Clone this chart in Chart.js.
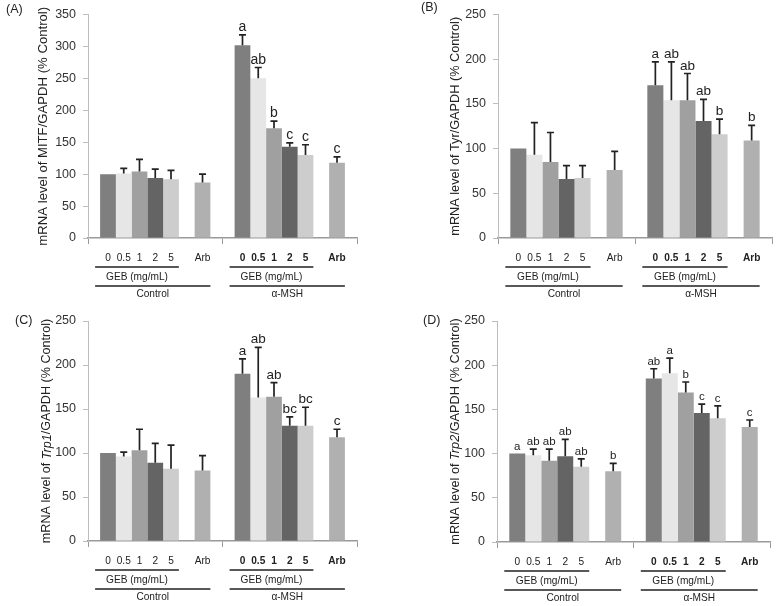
<!DOCTYPE html>
<html>
<head>
<meta charset="utf-8">
<script src="https://cdn.jsdelivr.net/npm/chart.js@4.4.1/dist/chart.umd.min.js"></script>
<style>
  html, body { margin: 0; padding: 0; background: #fff; }
  #wrap { position: relative; width: 780px; height: 606px; }
  canvas { position: absolute; }
</style>
</head>
<body>
<div id="wrap">
  <canvas id="chartA" width="390" height="300" style="left:0;top:0"></canvas>
  <canvas id="chartB" width="390" height="300" style="left:390px;top:0"></canvas>
  <canvas id="chartC" width="390" height="306" style="left:0;top:300px"></canvas>
  <canvas id="chartD" width="390" height="306" style="left:390px;top:300px"></canvas>
</div>
<script>
'use strict';

const doseLabels = ['0', '0.5', '1', '2', '5', 'Arb'];
const groupLabels = ['Control', 'α-MSH'];

// (A) MITF
const mitfControl = [100, 101, 104, 94, 92, 87];
const mitfControlErr = [0, 8, 19, 14, 14, 13];
const mitfMsh = [302, 250, 172, 143, 130, 118];
const mitfMshErr = [16, 17, 11, 6, 16, 9];
const mitfMshLetters = ['a', 'ab', 'b', 'c', 'c', 'c'];

// (B) Tyr
const tyrControl = [100, 93, 85, 66, 67, 76];
const tyrControlErr = [0, 36, 33, 15, 14, 21];
const tyrMsh = [171, 154, 154, 131, 116, 109];
const tyrMshErr = [26, 43, 30, 24, 17, 17];
const tyrMshLetters = ['a', 'ab', 'ab', 'ab', 'b', 'b'];

// (C) Trp1
const trp1Control = [100, 96, 103, 89, 82, 80];
const trp1ControlErr = [0, 5, 24, 22, 27, 17];
const trp1Msh = [190, 163, 164, 131, 131, 118];
const trp1MshErr = [17, 57, 16, 10, 21, 9];
const trp1MshLetters = ['a', 'ab', 'ab', 'bc', 'bc', 'c'];

// (D) Trp2
const trp2Control = [100, 98, 92, 97, 85, 80];
const trp2ControlErr = [0, 7, 13, 19, 9, 9];
const trp2ControlLetters = ['a', 'ab', 'ab', 'ab', 'ab', 'b'];
const trp2Msh = [185, 191, 169, 146, 140, 130];
const trp2MshErr = [11, 17, 12, 10, 14, 8];
const trp2MshLetters = ['ab', 'a', 'b', 'c', 'c', 'c'];

const barColors = ['#7f7f7f', '#e6e6e6', '#a0a0a0', '#646464', '#cdcdcd', '#b0b0b0'];
const FONT = '"Liberation Sans", Arial, sans-serif';
const INK = '#222';

const panels = [
  {
    canvas: 'chartA', tag: '(A)', tagX: 6, tagY: 10, titleX: 43, titleLen: 239,
    title: [['mRNA level of MITF/GAPDH (% Control)', false]],
    yMax: 350, area: { left: 88, right: 357, top: 10, bottom: 238 }, letterSize: 14,
    ctrl: mitfControl, ctrlErr: mitfControlErr, ctrlLetters: [],
    msh: mitfMsh, mshErr: mitfMshErr, mshLetters: mitfMshLetters
  },
  {
    canvas: 'chartB', tag: '(B)', tagX: 31, tagY: 8, titleX: 65, titleLen: 219,
    title: [['mRNA level of Tyr/GAPDH (% Control)', false]],
    yMax: 250, area: { left: 108, right: 382, top: 8, bottom: 238 }, letterSize: 13.5,
    ctrl: tyrControl, ctrlErr: tyrControlErr, ctrlLetters: [],
    msh: tyrMsh, mshErr: tyrMshErr, mshLetters: tyrMshLetters
  },
  {
    canvas: 'chartC', tag: '(C)', tagX: 15, tagY: 21, titleX: 47, titleLen: 225,
    title: [['mRNA level of ', false], ['Trp1', true], ['/GAPDH (% Control)', false]],
    yMax: 250, area: { left: 88, right: 357, top: 21, bottom: 241 }, letterSize: 13.5,
    ctrl: trp1Control, ctrlErr: trp1ControlErr, ctrlLetters: [],
    msh: trp1Msh, mshErr: trp1MshErr, mshLetters: trp1MshLetters
  },
  {
    canvas: 'chartD', tag: '(D)', tagX: 33, tagY: 21, titleX: 65, titleLen: 227,
    title: [['mRNA level of ', false], ['Trp2', true], ['/GAPDH (% Control)', false]],
    yMax: 250, area: { left: 107, right: 380, top: 21, bottom: 242 }, letterSize: 11.5,
    ctrl: trp2Control, ctrlErr: trp2ControlErr, ctrlLetters: trp2ControlLetters,
    msh: trp2Msh, mshErr: trp2MshErr, mshLetters: trp2MshLetters
  }
];

function buildDatasets(p) {
  const sets = [];
  for (let i = 0; i < doseLabels.length; i++) {
    if (i === 5) {
      // empty slot between the 5 mg/mL bar and Arb
      sets.push({ label: '', data: [null, null], backgroundColor: 'rgba(0,0,0,0)' });
    }
    sets.push({
      label: doseLabels[i],
      data: [p.ctrl[i], p.msh[i]],
      backgroundColor: barColors[i],
      borderWidth: 0
    });
  }
  return sets;
}

function barFor(chart, i, g) {
  return chart.getDatasetMeta(i < 5 ? i : i + 1).data[g];
}

// font size that makes `text` about `len` px long
function fitSize(ctx, text, len, style) {
  ctx.font = (style || '') + '20px ' + FONT;
  return 20 * len / ctx.measureText(text).width;
}

function decorPlugin(p) {
  return {
    id: 'decor',
    afterDraw(chart) {
      const ctx = chart.ctx;
      const yScale = chart.scales.y;
      const area = chart.chartArea;
      ctx.save();

      // error bars + letters
      for (let g = 0; g < 2; g++) {
        const vals = g === 0 ? p.ctrl : p.msh;
        const errs = g === 0 ? p.ctrlErr : p.mshErr;
        const letters = g === 0 ? p.ctrlLetters : p.mshLetters;
        for (let i = 0; i < doseLabels.length; i++) {
          const bar = barFor(chart, i, g);
          const top = yScale.getPixelForValue(vals[i] + errs[i]);
          if (errs[i] > 0) {
            ctx.strokeStyle = INK;
            ctx.lineWidth = 1.7;
            ctx.beginPath();
            ctx.moveTo(bar.x, yScale.getPixelForValue(vals[i]));
            ctx.lineTo(bar.x, top);
            ctx.moveTo(bar.x - 3.5, top);
            ctx.lineTo(bar.x + 3.5, top);
            ctx.stroke();
          }
          if (letters[i]) {
            ctx.fillStyle = INK;
            ctx.font = p.letterSize + 'px ' + FONT;
            ctx.textAlign = 'center';
            ctx.textBaseline = 'alphabetic';
            ctx.fillText(letters[i], bar.x, top - 4);
          }
        }
      }

      // category labels and bracket lines under the axis
      const b = area.bottom;
      const labelSize = fitSize(ctx, 'GEB (mg/mL)', 62);
      for (let g = 0; g < 2; g++) {
        const bars = doseLabels.map((d, i) => barFor(chart, i, g));
        const left = bars[0].x - bars[0].width / 2 - 5;
        const right5 = bars[4].x + bars[4].width / 2;
        const rightArb = bars[5].x + bars[5].width / 2;
        ctx.fillStyle = INK;
        ctx.textAlign = 'center';
        ctx.textBaseline = 'middle';
        ctx.font = (g === 1 ? 'bold ' : '') + labelSize + 'px ' + FONT;
        bars.forEach((bar, i) => ctx.fillText(doseLabels[i], bar.x, b + 20));
        ctx.strokeStyle = INK;
        ctx.lineWidth = 1.6;
        ctx.beginPath();
        ctx.moveTo(left, b + 29);
        ctx.lineTo(right5, b + 29);
        ctx.moveTo(left, b + 48);
        ctx.lineTo(rightArb, b + 48);
        ctx.stroke();
        ctx.font = labelSize + 'px ' + FONT;
        ctx.fillText('GEB (mg/mL)', (left + right5) / 2, b + 39.5);
        ctx.fillText(groupLabels[g], (left + rightArb) / 2, b + 56);
      }

      // panel tag
      ctx.font = '12.5px ' + FONT;
      ctx.textAlign = 'left';
      ctx.textBaseline = 'middle';
      ctx.fillText(p.tag, p.tagX, p.tagY);

      // y title, with italic gene names
      const plain = p.title.map(s => s[0]).join('');
      const size = fitSize(ctx, plain, p.titleLen);
      ctx.translate(p.titleX, (area.top + area.bottom) / 2);
      ctx.rotate(-Math.PI / 2);
      const fonts = p.title.map(s => (s[1] ? 'italic ' : '') + size + 'px ' + FONT);
      const widths = p.title.map((s, k) => { ctx.font = fonts[k]; return ctx.measureText(s[0]).width; });
      let x = -widths.reduce((a, w) => a + w, 0) / 2;
      ctx.textAlign = 'left';
      p.title.forEach((s, k) => {
        ctx.font = fonts[k];
        ctx.fillText(s[0], x, 0);
        x += widths[k];
      });
      ctx.restore();
    }
  };
}

function renderPanel(p) {
  const canvasElem = document.getElementById(p.canvas);
  const W = canvasElem.width;
  const H = canvasElem.height;
  return new Chart(canvasElem, {
    type: 'bar',
    data: { labels: groupLabels, datasets: buildDatasets(p) },
    options: {
      responsive: false,
      animation: false,
      devicePixelRatio: 1,
      layout: { padding: { left: 0, top: p.area.top, right: W - p.area.right, bottom: 0 } },
      datasets: { bar: { categoryPercentage: 0.82, barPercentage: 1 } },
      plugins: { legend: { display: false }, tooltip: { enabled: false } },
      scales: {
        x: {
          ticks: { display: false },
          grid: { drawOnChartArea: false, tickLength: 6, color: '#9a9a9a' },
          border: { color: '#9a9a9a', width: 1.5 },
          afterFit(s) { s.height = H - p.area.bottom; }
        },
        y: {
          min: 0,
          max: p.yMax,
          ticks: { stepSize: 50, color: '#333', padding: 7, font: { family: FONT, size: 12.5 } },
          grid: { drawOnChartArea: false, tickLength: 5, color: '#bdbdbd' },
          border: { color: '#bdbdbd' },
          afterFit(s) { s.width = p.area.left; }
        }
      }
    },
    plugins: [decorPlugin(p)]
  });
}

panels.forEach(renderPanel);
</script>
</body>
</html>
